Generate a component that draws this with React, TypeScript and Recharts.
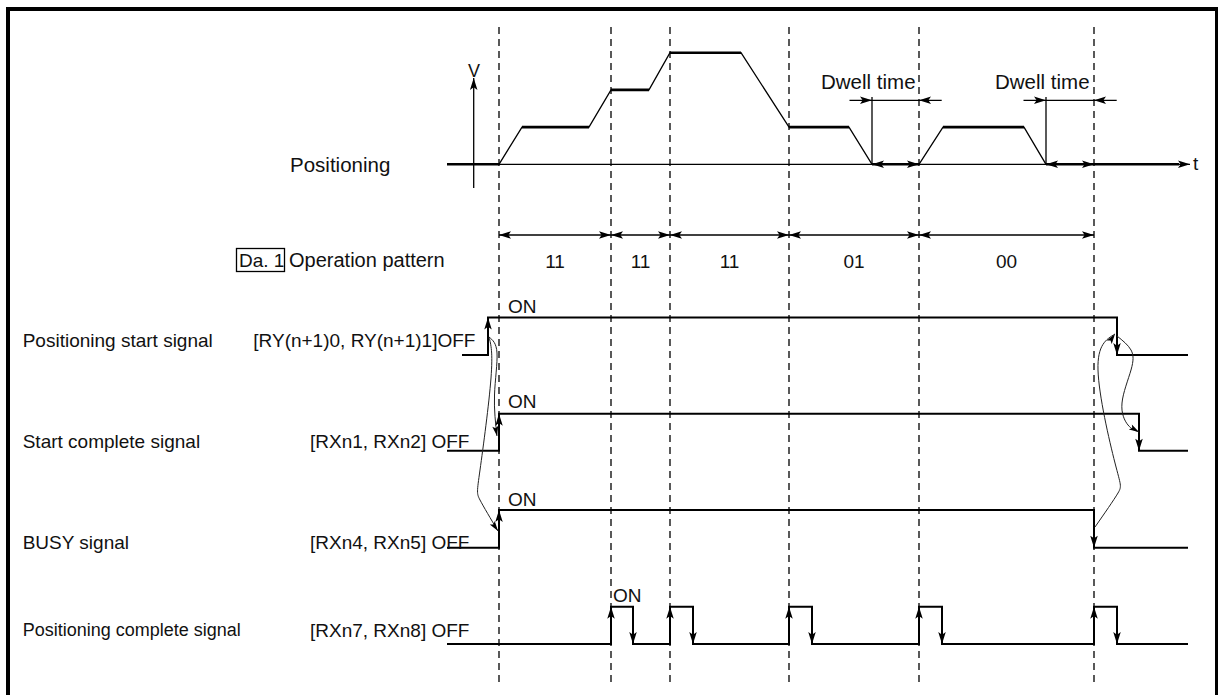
import React from 'react';
import { ComposedChart, Line, XAxis, YAxis, ReferenceLine, Scatter } from 'recharts';

// ---------- data (time in arbitrary units, levels 0/1, speeds in speed units) ----------
const patternTimes = [0, 11.2, 17.1, 29.0, 42.0, 59.5];
const patternCodes = ['11', '11', '11', '01', '00'];

const profileTimes = [0, 2.3, 9.0, 11.2, 15.0, 17.1, 24.2, 29.0, 35.0, 37.3, 42.0, 44.4, 52.5, 54.7];
const profileSpeeds = [0, 1, 1, 2, 2, 3, 3, 1, 1, 0, 0, 1, 1, 0];

const dwellStarts = [37.3, 54.7];
const dwellEnds = [42.0, 59.5];

const startSignal = { from: -3.7, to: 68.9, rises: [-1.1], falls: [61.8] };
const startComplete = { from: -5.2, to: 68.9, rises: [0], falls: [64.0] };
const busySignal = { from: -5.2, to: 68.9, rises: [0], falls: [59.5] };
const posComplete = {
  from: -5.2,
  to: 68.9,
  rises: [11.2, 17.1, 29.0, 42.0, 59.5],
  falls: [13.4, 19.4, 31.3, 44.3, 61.8],
};

const rowNames = ['Positioning start signal', 'Start complete signal', 'BUSY signal', 'Positioning complete signal'];
const rowDevices = ['[RY(n+1)0, RY(n+1)1]OFF', '[RXn1, RXn2] OFF', '[RXn4, RXn5] OFF', '[RXn7, RXn8] OFF'];

// ---------- layout ----------
const W = 1218;
const H = 695;
const T_DOMAIN: [number, number] = [-49.9, 71.9];
const Y_DOMAIN: [number, number] = [0, 695];
const V_BASE = 164.3;
const V_UNIT = 37.2;
const DIM_Y = 235;
const DASH_TOP = 27;
const DASH_BOTTOM = 683;
const FONT = '"Liberation Sans", Arial, Helvetica, sans-serif';

const ROWS = [
  { off: 355, on: 317.5, nameY: 347, devT: -24.57, devY: 347, onT: 0.9, onY: 313, size: 19 },
  { off: 450.7, on: 413.7, nameY: 448, devT: -18.9, devY: 448, onT: 0.9, onY: 408, size: 19 },
  { off: 547.7, on: 510, nameY: 549, devT: -18.9, devY: 549, onT: 0.9, onY: 506, size: 19 },
  { off: 644, on: 606.7, nameY: 636, devT: -18.9, devY: 637, onT: 11.4, onY: 602, size: 18 },
];
const NAME_T = -47.63;

const vy = (s: number) => V_BASE - s * V_UNIT;

type Pt = { t: number; y: number; arrow?: number };

function wave(sig: { from: number; to: number; rises: number[]; falls: number[] }, row: { on: number; off: number }): Pt[] {
  const ev = [
    ...sig.rises.map((t) => ({ t, l: 1 })),
    ...sig.falls.map((t) => ({ t, l: 0 })),
  ].sort((a, b) => a.t - b.t);
  const yOf = (l: number) => (l ? row.on : row.off);
  const pts: Pt[] = [{ t: sig.from, y: yOf(0) }];
  let cur = 0;
  for (const e of ev) {
    pts.push({ t: e.t, y: yOf(cur) });
    pts.push({ t: e.t, y: yOf(e.l), arrow: e.l ? -90 : 90 });
    cur = e.l;
  }
  pts.push({ t: sig.to, y: yOf(cur) });
  return pts;
}

const signals = [startSignal, startComplete, busySignal, posComplete];
const waves = signals.map((s, i) => wave(s, ROWS[i]));

const profile: Pt[] = profileTimes.map((t, i) => ({ t, y: vy(profileSpeeds[i]) }));
const plateaus: Pt[][] = [];
for (let i = 0; i < profile.length - 1; i++) {
  if (profileSpeeds[i] === profileSpeeds[i + 1] && profileSpeeds[i] > 0) plateaus.push([profile[i], profile[i + 1]]);
}

const timeAxis: Pt[] = [{ t: -5.2, y: vy(0) }, { t: 69.1, y: vy(0), arrow: 0 }];
const thickBase: Pt[][] = [
  [{ t: -5.2, y: vy(0) }, { t: 0, y: vy(0) }],
  [{ t: dwellEnds[1], y: vy(0) }, { t: 68.0, y: vy(0) }],
];
const vAxis: Pt[] = [{ t: -2.53, y: vy(-0.64) }, { t: -2.53, y: vy(2.32), arrow: -90 }];

const dwellBaseArrows: Pt[][] = dwellStarts.map((s, i) => [
  { t: s, y: vy(0), arrow: 180 },
  { t: dwellEnds[i], y: vy(0), arrow: 0 },
]);
const dwellMarks: Pt[][] = dwellStarts.map((s) => [{ t: s, y: vy(0) }, { t: s, y: vy(1.81) }]);
const dwellDims: Pt[][] = dwellStarts.map((s, i) => [
  { t: s - 2.25, y: vy(1.72) },
  { t: s, y: vy(1.72), arrow: 0 },
  { t: dwellEnds[i], y: vy(1.72), arrow: 180 },
  { t: dwellEnds[i] + 2.27, y: vy(1.72) },
]);

const patternDims: Pt[][] = patternCodes.map((_, i) => [
  { t: patternTimes[i], y: DIM_Y, arrow: 180 },
  { t: patternTimes[i + 1], y: DIM_Y, arrow: 0 },
]);

// cause/effect curves
const curves: Pt[][] = [
  [{ t: -1.0, y: 337 }, { t: -0.2, y: 353 }, { t: -0.45, y: 395 }, { t: -0.2, y: 436, arrow: 80 }],
  [{ t: -1.0, y: 337 }, { t: -0.8, y: 378 }, { t: -1.9, y: 470 }, { t: -1.9, y: 500 }, { t: -0.1, y: 531, arrow: 55 }],
  [{ t: 59.6, y: 527 }, { t: 61.9, y: 493 }, { t: 61.6, y: 463 }, { t: 59.9, y: 370 }, { t: 61.6, y: 334, arrow: -55 }],
  [{ t: 61.8, y: 336 }, { t: 63.2, y: 350 }, { t: 63.2, y: 370 }, { t: 62.3, y: 403 }, { t: 62.9, y: 425 }, { t: 64.0, y: 432, arrow: 30 }],
];

type Label = { t: number; y: number; text: string; anchor?: string; size?: number; boxed?: boolean };
const labels: Label[] = [
  { t: -2.5, y: 77, text: 'V', anchor: 'middle', size: 18 },
  { t: 69.4, y: 170, text: 't', size: 19 },
  { t: -20.9, y: 172, text: 'Positioning', size: 20.5 },
  { t: 32.2, y: 89, text: 'Dwell time', size: 20.5 },
  { t: 49.6, y: 89, text: 'Dwell time', size: 20.5 },
  { t: -26.0, y: 267, text: 'Da. 1', size: 19, boxed: true },
  { t: -21.0, y: 267, text: 'Operation pattern', size: 20 },
  ...patternCodes.map((c, i) => ({
    t: (patternTimes[i] + patternTimes[i + 1]) / 2,
    y: 268,
    text: c,
    anchor: 'middle',
    size: 19,
  })),
  ...ROWS.flatMap((r, i) => [
    { t: NAME_T, y: r.nameY, text: rowNames[i], size: r.size },
    { t: r.devT, y: r.devY, text: rowDevices[i], size: 19 },
    { t: r.onT, y: r.onY, text: 'ON', size: 19 },
  ]),
];

// ---------- renderers ----------
const makeArrow = (L: number, Wd: number) => (props: any) => {
  const { cx, cy, payload, index } = props;
  if (!payload || payload.arrow === undefined || cx == null || cy == null) return <g key={`n-${index}-${cx}-${cy}`} />;
  return (
    <path
      key={`a-${index}-${cx}-${cy}`}
      d={`M0,0 L${-L},${-Wd / 2} L${-L * 0.78},0 L${-L},${Wd / 2} Z`}
      transform={`translate(${cx},${cy}) rotate(${payload.arrow})`}
      fill="#000"
      stroke="none"
    />
  );
};
const bigArrow = makeArrow(12, 7.5);
const smallArrow = makeArrow(10, 6);

const renderLabel = (props: any) => {
  const { cx, cy, payload } = props;
  const size = payload.size || 19;
  return (
    <g>
      {payload.boxed ? (
        <rect x={cx - 2.5} y={cy - 18.5} width={48} height={23} fill="none" stroke="#000" strokeWidth={1.3} />
      ) : null}
      <text x={cx} y={cy} textAnchor={payload.anchor || 'start'} fontSize={size} fontFamily={FONT} fill="#111">
        {payload.text}
      </text>
    </g>
  );
};

let keyN = 0;
const seg = (data: Pt[], width: number, extra: any = {}) => (
  <Line
    key={`l${keyN++}`}
    data={data}
    dataKey="y"
    type="linear"
    stroke="#000"
    strokeWidth={width}
    dot={false}
    activeDot={false}
    isAnimationActive={false}
    legendType="none"
    {...extra}
  />
);

export default function App() {
  keyN = 0;
  return (
    <div style={{ position: 'absolute', left: 0, top: 0, width: W, height: H, overflow: 'hidden', background: '#fff' }}>
      <div
        style={{
          position: 'absolute',
          left: 6,
          top: 7,
          width: 1213,
          height: 700,
          boxSizing: 'border-box',
          borderTop: '4px solid #000',
          borderLeft: '4px solid #000',
          borderRight: '4px solid #000',
        }}
      />
      <div style={{ position: 'absolute', left: 0, top: 0 }}>
        <ComposedChart width={W} height={H} margin={{ top: 0, right: 0, bottom: 0, left: 0 }}>
          <XAxis type="number" dataKey="t" domain={T_DOMAIN} hide allowDataOverflow />
          <YAxis type="number" dataKey="y" domain={Y_DOMAIN} reversed hide allowDataOverflow width={0} />
          {patternTimes.map((t) => (
            <ReferenceLine
              key={`d${t}`}
              segment={[{ x: t, y: DASH_TOP }, { x: t, y: DASH_BOTTOM }]}
              stroke="#000"
              strokeWidth={1.3}
              strokeDasharray="7 5"
              ifOverflow="visible"
            />
          ))}
          {seg(timeAxis, 1.3, { dot: bigArrow })}
          {thickBase.map((d) => seg(d, 2.6))}
          {seg(vAxis, 1.3, { dot: bigArrow })}
          {seg(profile, 1.3)}
          {plateaus.map((d) => seg(d, 2.6))}
          {dwellBaseArrows.map((d) => seg(d, 2.4, { dot: bigArrow }))}
          {dwellMarks.map((d) => seg(d, 1.3))}
          {dwellDims.map((d) => seg(d, 1.3, { dot: bigArrow }))}
          {patternDims.map((d) => seg(d, 1.3, { dot: bigArrow }))}
          {waves.map((d) => seg(d, 2, { dot: bigArrow }))}
          {curves.map((d) => seg(d, 1, { type: 'natural', stroke: '#222', dot: smallArrow }))}
          <Scatter data={labels} dataKey="y" shape={renderLabel} isAnimationActive={false} legendType="none" />
        </ComposedChart>
      </div>
    </div>
  );
}
